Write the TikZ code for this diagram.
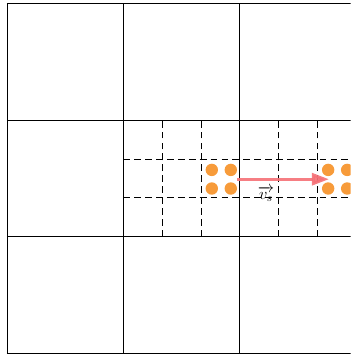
\documentclass[tikz,border=0pt]{standalone}
\usepackage{amsmath}
\usepackage{amssymb}
\usepackage{tikz}
\usepackage{xcolor}
\usetikzlibrary{arrows.meta, positioning, calc}

\definecolor{dotorange}{RGB}{247,155,58}
\definecolor{velred}{RGB}{245,112,118}

\begin{document}
\begin{tikzpicture}[line width=0.6pt]
\clip (-0.18,-0.155) rectangle (8.86,9.1);

% fine cells
\draw[step=1, dash pattern=on 5pt off 3pt] (3,3) grid (9,6);
% coarse cells
\draw[step=3] (0,0) grid (9,9);

% particles
\foreach \x in {5.28,5.77,8.28,8.77}
  \foreach \y in {4.24,4.72}
    \fill[dotorange] (\x,\y) circle (0.16);

% velocity
\coordinate (vstart) at (5.93,4.48);
\coordinate (vend) at (8.3,4.48);
\draw[velred, line width=2.2pt, opacity=0.9, -{Triangle[length=0.44cm,width=0.31cm]}] (vstart) -- (vend);
\node[font=\large] (vlabel) at (6.68,4.1) {$\overrightarrow{v_s}$};
\end{tikzpicture}
\end{document}
